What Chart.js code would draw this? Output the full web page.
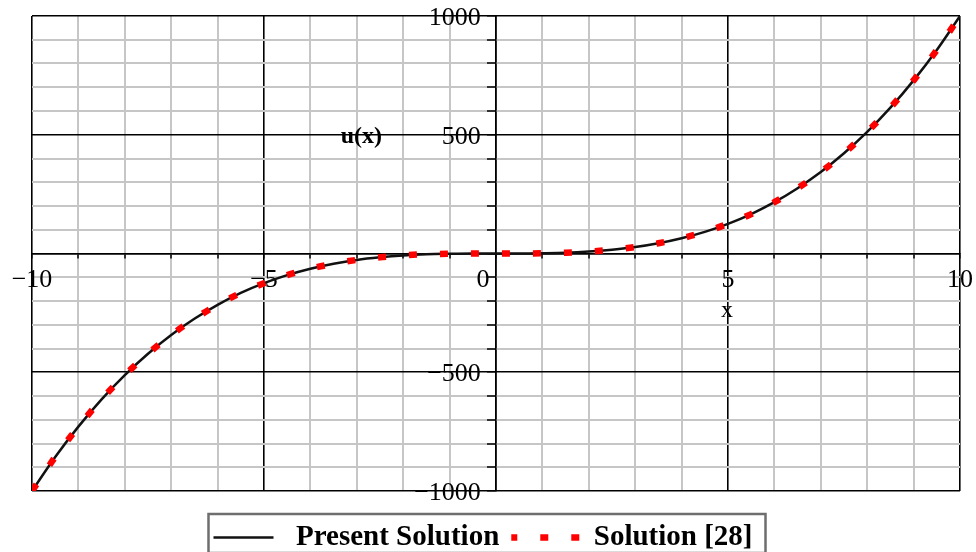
<!DOCTYPE html>
<html>
<head>
<meta charset="utf-8">
<script src="https://cdn.jsdelivr.net/npm/chart.js@4/dist/chart.umd.min.js"></script>
<style>
  html, body { margin: 0; padding: 0; background: #fff; }
  canvas { display: block; }
</style>
</head>
<body>
<canvas id="plot" width="976" height="552"></canvas>
<script>
// values
const xValues = [-10, -9.5, -9, -8.5, -8, -7.5, -7, -6.5, -6, -5.5, -5, -4.5, -4, -3.5, -3, -2.5, -2, -1.5, -1, -0.5,
    0, 0.5, 1, 1.5, 2, 2.5, 3, 3.5, 4, 4.5, 5, 5.5, 6, 6.5, 7, 7.5, 8, 8.5, 9, 9.5, 10]
const presentU = [-1000, -857, -729, -614, -512, -422, -343, -275, -216, -166, -125, -91, -64, -43, -27, -16, -8, -3, -1, 0,
    0, 0, 1, 3, 8, 16, 27, 43, 64, 91, 125, 166, 216, 275, 343, 422, 512, 614, 729, 857, 1000]
const refU = [-1000, -857, -729, -614, -512, -422, -343, -275, -216, -166, -125, -91, -64, -43, -27, -16, -8, -3, -1, 0,
    0, 0, 1, 3, 8, 16, 27, 43, 64, 91, 125, 166, 216, 275, 343, 422, 512, 614, 729, 857, 1000]
const seriesLabels = ['Present Solution', 'Solution [28]']
// trailing spaces push the labels off the axis line, as in the original
const xTickLabels = { '-10': '\u221210', '-5': '\u22125', '0': '0    ', '5': '5', '10': '10' }
const yTickLabels = { '-1000': '\u22121000  \u200A', '-500': '\u2212500  \u200A', '500': '500  \u200A', '1000': '1000  \u200A' }

const SERIF = '"Liberation Serif", "Times New Roman", serif'
Chart.defaults.font.family = SERIF
Chart.defaults.color = '#000'

const toPoints = (ys) => xValues.map((x, i) => ({ x: x, y: ys[i] }))

// axis names placed in data space, like the original plot
const axisNames = {
    id: 'axisNames',
    afterDraw(chart) {
        const { ctx, scales } = chart
        ctx.save()
        ctx.fillStyle = '#000'
        ctx.textAlign = 'center'
        ctx.textBaseline = 'middle'
        ctx.font = 'bold 24px ' + SERIF
        ctx.fillText('u(x)', scales.x.getPixelForValue(-2.9), scales.y.getPixelForValue(490))
        ctx.font = '24px ' + SERIF
        ctx.fillText('x', scales.x.getPixelForValue(4.98), scales.y.getPixelForValue(-240))
        ctx.restore()
    }
}

// move the legend and put a frame round it
const legendFrame = {
    id: 'legendFrame',
    afterLayout(chart) {
        const lg = chart.legend
        lg.left -= 13; lg.right -= 13
        lg.top += 20; lg.bottom += 20
    },
    afterDraw(chart) {
        const boxes = chart.legend.legendHitBoxes
        if (!boxes || !boxes.length) return
        const first = boxes[0], last = boxes[boxes.length - 1]
        const ctx = chart.ctx
        ctx.save()
        ctx.strokeStyle = '#6e6e6e'
        ctx.lineWidth = 2.5
        ctx.strokeRect(first.left - 5, first.top - 9, last.left + last.width - first.left + 18, first.height + 10)
        ctx.restore()
    }
}

// axes sit inside the plot, so their labels must not push the plot area in
const noScalePadding = (scale) => {
    scale.paddingLeft = 0; scale.paddingRight = 0
    scale.paddingTop = 0; scale.paddingBottom = 0
}

new Chart(document.getElementById('plot'), {
    type: 'line',
    data: {
        datasets: [
            {
                label: seriesLabels[0],
                data: toPoints(presentU),
                borderColor: '#111',
                borderWidth: 2.5,
                pointRadius: 0,
                cubicInterpolationMode: 'monotone',
                order: 2
            },
            {
                label: seriesLabels[1],
                data: toPoints(refU),
                borderColor: '#ff0000',
                borderWidth: 6.5,
                borderDash: [8, 23],
                borderCapStyle: 'butt',
                pointRadius: 0,
                cubicInterpolationMode: 'monotone',
                order: 1
            }
        ]
    },
    options: {
        responsive: false,
        animation: false,
        layout: { padding: { left: 32, right: 16, top: 16, bottom: 10 } },
        plugins: {
            tooltip: { enabled: false },
            legend: {
                position: 'bottom',
                labels: {
                    usePointStyle: true,
                    pointStyleWidth: 68,
                    boxWidth: 68,
                    padding: 12,
                    font: { size: 29, weight: 'bold' },
                    generateLabels: (chart) => chart.data.datasets.map((ds, i) => ({
                        text: ds.label,
                        pointStyle: 'line',
                        strokeStyle: ds.borderColor,
                        fillStyle: ds.borderColor,
                        lineWidth: ds.borderWidth,
                        lineDash: ds.borderDash || [60, 100],
                        lineDashOffset: ds.borderDash ? 2 : 0,
                        lineCap: 'butt',
                        fontColor: '#000',
                        hidden: false,
                        datasetIndex: i
                    }))
                }
            }
        },
        scales: {
            x: {
                type: 'linear',
                min: -10,
                max: 10,
                position: { y: 0 },
                afterFit: noScalePadding,
                ticks: {
                    stepSize: 1,
                    autoSkip: false,
                    maxRotation: 0,
                    padding: 7,
                    font: { size: 26 },
                    callback: (v) => xTickLabels[v] !== undefined ? xTickLabels[v] : ''
                },
                grid: {
                    color: (c) => c.tick && c.tick.value % 5 === 0 ? '#000' : '#c6c6c6',
                    lineWidth: (c) => c.tick && c.tick.value % 5 === 0 ? 1.6 : 2,
                    tickColor: '#000',
                    tickLength: 4,
                    tickWidth: 1.5
                },
                border: { color: '#000', width: 1.6 }
            },
            y: {
                type: 'linear',
                min: -1000,
                max: 1000,
                position: { x: 0 },
                afterFit: noScalePadding,
                ticks: {
                    stepSize: 100,
                    autoSkip: false,
                    padding: 0,
                    labelOffset: 2,
                    font: { size: 26 },
                    callback: (v) => yTickLabels[v] !== undefined ? yTickLabels[v] : ''
                },
                grid: {
                    color: (c) => c.tick && c.tick.value % 500 === 0 ? '#000' : '#c6c6c6',
                    lineWidth: (c) => c.tick && c.tick.value % 500 === 0 ? 1.6 : 2,
                    tickColor: '#000',
                    tickLength: 8,
                    tickWidth: 1.5
                },
                border: { color: '#000', width: 1.6 }
            }
        }
    },
    plugins: [axisNames, legendFrame]
});
</script>
</body>
</html>
